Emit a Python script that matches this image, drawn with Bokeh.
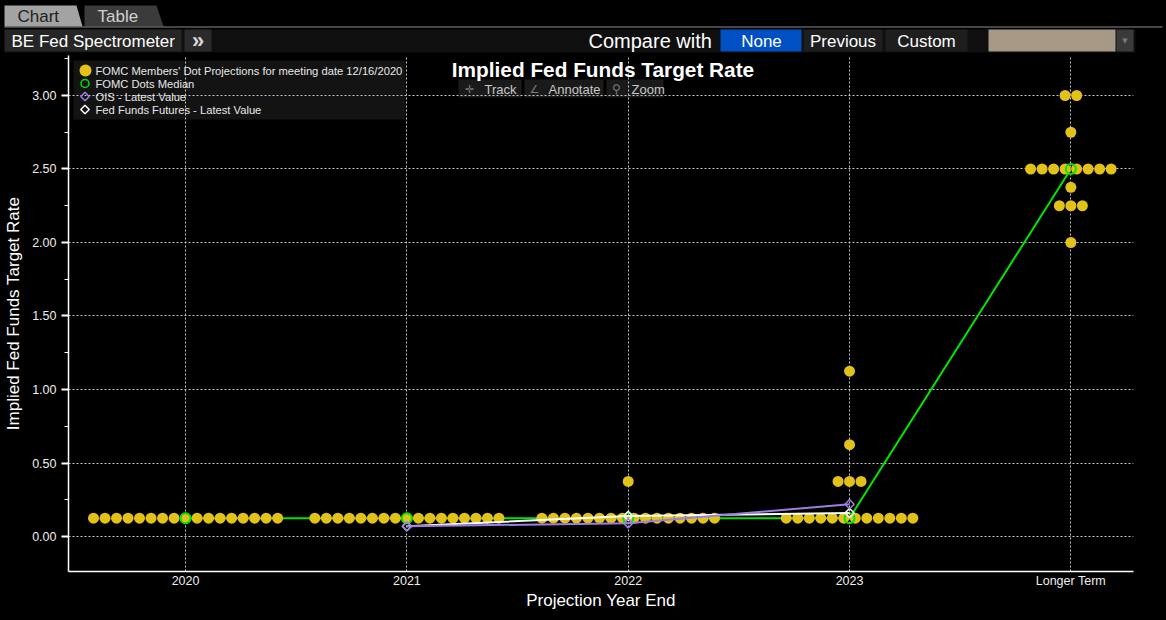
import numpy as np
from bokeh.plotting import figure
from bokeh.models import (Range1d, SingleIntervalTicker, FixedTicker, Label, BoxAnnotation,
                          NumeralTickFormatter)
from bokeh.layouts import column
from bokeh.core.properties import value
from bokeh.embed import file_html
from bokeh.resources import INLINE

# ---- data -----------------------------------------------------------------
categories = ["2020", "2021", "2022", "2023", "Longer Term"]

# FOMC participants' dots: rate levels and how many participants sit at each
rates_2020 = [0.125]
counts_2020 = [17]
rates_2021 = [0.125]
counts_2021 = [17]
rates_2022 = [0.125, 0.375]
counts_2022 = [16, 1]
rates_2023 = [0.125, 0.375, 0.625, 1.125]
counts_2023 = [12, 3, 1, 1]
rates_longer = [2.0, 2.25, 2.375, 2.5, 2.75, 3.0]
counts_longer = [1, 3, 1, 8, 1, 2]

median_rate = [0.125, 0.125, 0.125, 0.125, 2.5]

market_categories = ["2021", "2022", "2023"]
ois_rate = [0.07, 0.09, 0.22]
fff_rate = [0.07, 0.14, 0.16]

y_ticks = [0.0, 0.5, 1.0, 1.5, 2.0, 2.5, 3.0]

legend_labels = [
    "FOMC Members' Dot Projections for meeting date 12/16/2020",
    "FOMC Dots Median",
    "OIS - Latest Value",
    "Fed Funds Futures - Latest Value",
]

# ---- styling ----------------------------------------------------------------
FONT = "Liberation Sans"
DOT = "#e2c118"
MED = "#00e600"
OIS = "#9c7fe2"
FFF = "#ffffff"
GRID = "#c4c4c4"
TXT = "#eeeeee"

W = 1166
HEAD_H = 55
MAIN_H = 565
X0, X1 = -0.529, 4.283
Y0, Y1 = -0.238, 3.272
FL, FR, FT, FB = 68, 1133, 55, 571   # plot frame edges on the page


def fx(px):
    """page pixel column -> x data value"""
    return X0 + (px - FL) * (X1 - X0) / (FR - FL)


def fy(py):
    """page pixel row -> y data value"""
    return Y1 - (py - FT) * (Y1 - Y0) / (FB - FT)


# ---- header strip (its data space is laid out in pixels) ------------------------
h = figure(width=W, height=HEAD_H, x_range=Range1d(0, W), y_range=Range1d(HEAD_H, 0),
           x_axis_type=None, y_axis_type=None, toolbar_location=None,
           output_backend="svg", min_border=0, background_fill_color="black",
           border_fill_color="black", outline_line_color=None, outline_line_alpha=0,
           frame_align=False)
h.grid.visible = False

h.patches(xs=[[4, 4, 76, 82], [84, 84, 156, 163]],
          ys=[[26, 5, 5, 26], [26, 5, 5, 26]],
          fill_color=["#a3a3a3", "#3b3b3b"], line_color=None)
h.quad(left=[4], right=[1162], top=[26], bottom=[27], fill_color="#8a8a8a", line_color=None)
h.quad(left=[4], right=[1135], top=[29], bottom=[52], fill_color="#0f0f0f", line_color=None)
h.quad(left=[4, 184, 720, 803, 885, 988, 1116],
       right=[181, 211, 801, 882, 967, 1115, 1133],
       top=[29] * 7, bottom=[51] * 7,
       fill_color=["#262626", "#2b2b2b", "#0050c4", "#1e1e1e", "#1e1e1e", "#a79985", "#3a3a3a"],
       line_color=None)

h.text(x=[17], y=[16], text=["Chart"], text_color="#1e1e1e", text_font=value(FONT),
       text_font_size="17px", text_baseline="middle")
h.text(x=[97], y=[16], text=["Table"], text_color="#d0d0d0", text_font=value(FONT),
       text_font_size="17px", text_baseline="middle")
h.text(x=[11], y=[40.5], text=["BE Fed Spectrometer"], text_color="white",
       text_font=value(FONT), text_font_size="17px", text_baseline="middle")
h.text(x=[197.5], y=[39.5], text=["»"], text_color="#d8d8d8", text_font=value(FONT),
       text_font_size="22px", text_font_style="bold", text_baseline="middle", text_align="center")
h.text(x=[588], y=[40.5], text=["Compare with"], text_color="white", text_font=value(FONT),
       text_font_size="20px", text_baseline="middle")
h.text(x=[761, 842.5, 926], y=[40.5] * 3, text=["None", "Previous", "Custom"],
       text_color="white", text_font=value(FONT), text_font_size="17px",
       text_baseline="middle", text_align="center")
h.text(x=[1124.5], y=[40], text=["▼"], text_color="#7a7a7a", text_font=value("DejaVu Sans"),
       text_font_size="7px", text_baseline="middle", text_align="center")

# ---- main chart -----------------------------------------------------------------
p = figure(width=W, height=MAIN_H, x_range=Range1d(X0, X1), y_range=Range1d(Y0, Y1),
           output_backend="svg", toolbar_location=None,
           min_border_left=FL, min_border_right=W - FR, min_border_top=0,
           min_border_bottom=MAIN_H - (FB - FT),
           background_fill_color="black", border_fill_color="black",
           outline_line_color=None, outline_line_alpha=0, frame_align=False)

p.xaxis.ticker = FixedTicker(ticks=list(range(len(categories))))
p.xaxis.major_label_overrides = {i: c for i, c in enumerate(categories)}
p.yaxis.ticker = SingleIntervalTicker(interval=0.5, num_minor_ticks=2)
p.yaxis.formatter = NumeralTickFormatter(format="0.00")

for ax in (p.xaxis, p.yaxis):
    ax.axis_line_color = "white"
    ax.axis_line_width = 1.5
    ax.major_label_text_color = TXT
    ax.major_label_text_font = FONT
    ax.major_label_text_font_size = "12.5px"
    ax.axis_label_text_color = "white"
    ax.axis_label_text_font = FONT
    ax.axis_label_text_font_size = "17px"
    ax.axis_label_text_font_style = "normal"

p.xaxis.axis_label = "Projection Year End"
p.xaxis.major_tick_line_color = None
p.xaxis.major_tick_out = 0
p.xaxis.major_tick_in = 0
p.xaxis.minor_tick_line_color = None
p.xaxis.minor_tick_out = 0
p.xaxis.major_label_standoff = 2
p.xaxis.axis_label_standoff = 0

p.yaxis.axis_label = "Implied Fed Funds Target Rate"
p.yaxis.major_tick_line_color = "white"
p.yaxis.major_tick_line_width = 2
p.yaxis.major_tick_in = 0
p.yaxis.major_tick_out = 7
p.yaxis.minor_tick_line_color = "white"
p.yaxis.minor_tick_in = 0
p.yaxis.minor_tick_out = 4
p.yaxis.major_label_standoff = 5
p.yaxis.axis_label_standoff = 6

p.xgrid.ticker = FixedTicker(ticks=list(range(len(categories))))
p.ygrid.ticker = FixedTicker(ticks=y_ticks)
p.grid.grid_line_color = GRID
p.grid.grid_line_dash = "2 2"
p.grid.grid_line_width = 1

# legend panel and tool buttons sit beneath the grid
p.add_layout(BoxAnnotation(left=fx(73), right=fx(405), top=fy(60), bottom=fy(119),
                           fill_color="#161616", fill_alpha=0.85, line_color=None,
                           level="image"))
for left, right in [(458, 521), (524, 603), (606, 663)]:
    p.add_layout(BoxAnnotation(left=fx(left), right=fx(right), top=fy(79), bottom=fy(97),
                               fill_color="#1d1d1d", fill_alpha=0.9, line_color=None,
                               level="image"))

# dot positions: participants at the same level are spread side by side
DOT_STEP = 0.052
all_rates = [rates_2020, rates_2021, rates_2022, rates_2023, rates_longer]
all_counts = [counts_2020, counts_2021, counts_2022, counts_2023, counts_longer]
dot_x, dot_y = [], []
for ci, (rates, counts) in enumerate(zip(all_rates, all_counts)):
    for r, n in zip(rates, counts):
        for k in range(n):
            dot_x.append(ci + (k - (n - 1) / 2) * DOT_STEP)
            dot_y.append(r)

cat_x = list(range(len(categories)))
mkt_x = [categories.index(c) for c in market_categories]

p.line(cat_x, median_rate, line_color=MED, line_width=2)
p.scatter(dot_x, dot_y, marker="circle", size=11, fill_color=DOT, line_color=None)
p.scatter(cat_x, median_rate, marker="circle", size=10, fill_color=None,
          line_color=MED, line_width=2)
p.line(mkt_x, fff_rate, line_color=FFF, line_width=2)
p.line(mkt_x, ois_rate, line_color=OIS, line_width=2)
p.scatter(mkt_x, fff_rate, marker="square", angle=np.pi / 4, size=6.5,
          fill_color=None, line_color=FFF, line_width=1.5)
p.scatter(mkt_x, ois_rate, marker="square", angle=np.pi / 4, size=6.5,
          fill_color=None, line_color=OIS, line_width=1.5)

# legend entries
leg_rows = [70, 83, 96, 109]
p.scatter([fx(85)], [fy(leg_rows[0])], marker="circle", size=12, fill_color=DOT, line_color=None)
p.scatter([fx(84.5)], [fy(leg_rows[1])], marker="circle", size=8, fill_color=None,
          line_color=MED, line_width=1.5)
p.scatter([fx(84.5)], [fy(leg_rows[2])], marker="square", angle=np.pi / 4, size=6,
          fill_color=None, line_color=OIS, line_width=1.5)
p.scatter([fx(84.5)], [fy(leg_rows[3])], marker="square", angle=np.pi / 4, size=6,
          fill_color=None, line_color=FFF, line_width=1.5)
for row, txt in zip(leg_rows, legend_labels):
    p.add_layout(Label(x=fx(95), y=fy(row + 0.5), text=txt, text_align="left",
                       text_baseline="middle", text_color="#e8e8e8", text_font=FONT,
                       text_font_size="11.2px"))

# title and the small tool buttons beneath it
p.add_layout(Label(x=fx(602.5), y=fy(68.5), text="Implied Fed Funds Target Rate",
                   text_align="center", text_baseline="middle", text_color="white",
                   text_font=FONT, text_font_size="20.8px", text_font_style="bold"))

for px, txt, col, font, size in [
    (469, "✛", "#7a7a7a", "DejaVu Sans", "11px"),
    (484, "Track", "#c8c8c8", FONT, "13px"),
    (534, "∠", "#7a7a7a", "DejaVu Sans", "11px"),
    (548, "Annotate", "#c8c8c8", FONT, "13px"),
    (616, "⚲", "#7a7a7a", "DejaVu Sans", "12px"),
    (631, "Zoom", "#c8c8c8", FONT, "13px"),
]:
    p.add_layout(Label(x=fx(px), y=fy(88.5), text=txt,
                       text_align="left" if len(txt) > 1 else "center",
                       text_baseline="middle", text_color=col, text_font=font,
                       text_font_size=size))

layout = column(h, p, spacing=0, styles={"background-color": "black"})
open("out.html", "w").write(file_html(layout, INLINE))
